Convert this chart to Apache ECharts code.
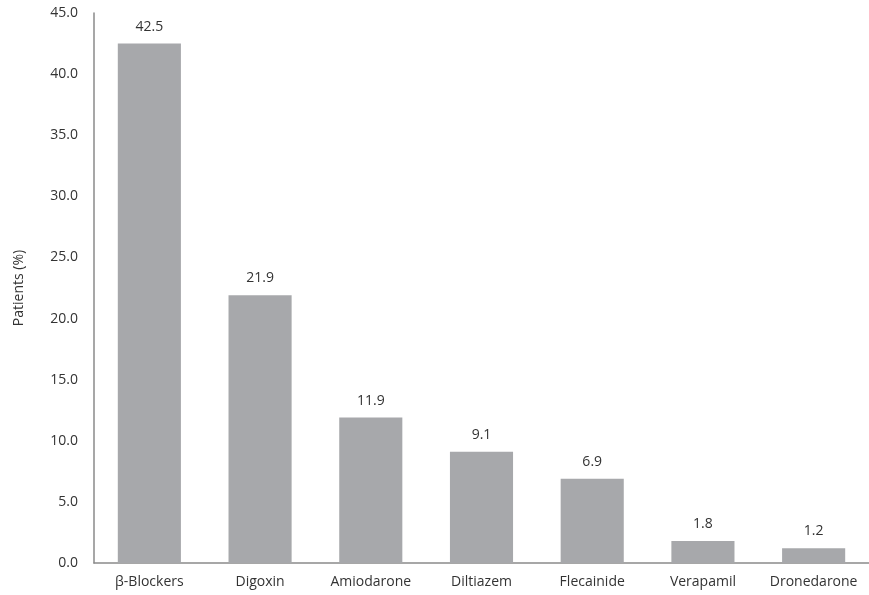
<!DOCTYPE html>
<html>
<head>
<meta charset="utf-8">
<script src="https://cdn.jsdelivr.net/npm/echarts@6/dist/echarts.min.js"></script>
<style>
  html, body { margin: 0; padding: 0; background: #fff; }
  #chart { width: 869px; height: 595px; }
</style>
</head>
<body>
<div id="chart"></div>
<script>
// Rate-control and antiarrhythmic drug use
const drugs = ['β-Blockers', 'Digoxin', 'Amiodarone', 'Diltiazem', 'Flecainide', 'Verapamil', 'Dronedarone'];
const patientPct = [42.5, 21.9, 11.9, 9.1, 6.9, 1.8, 1.2];
const yTicks = { min: 0, max: 45, step: 5 };

const fontFamily = '"Open Sans", "Noto Sans", sans-serif';
const chart = echarts.init(document.getElementById('chart'));
chart.setOption({
  animation: false,
  grid: { left: 94, right: 0, top: 13, bottom: 32, containLabel: false },
  xAxis: {
    type: 'category',
    data: drugs,
    axisLine: { lineStyle: { color: '#8a8a8a', width: 1.5 } },
    axisTick: { show: false },
    axisLabel: { color: '#333', fontSize: 14, fontFamily, margin: 12, interval: 0, hideOverlap: false }
  },
  yAxis: {
    type: 'value',
    min: yTicks.min,
    max: yTicks.max,
    interval: yTicks.step,
    name: 'Patients (%)',
    nameLocation: 'middle',
    nameRotate: 90,
    nameGap: 68,
    nameTextStyle: { color: '#333', fontSize: 14, fontFamily },
    axisLine: { show: true, lineStyle: { color: '#8a8a8a', width: 1.5 } },
    axisTick: { show: false },
    splitLine: { show: false },
    axisLabel: {
      color: '#333', fontSize: 14, fontFamily, margin: 16,
      formatter: v => v.toFixed(1)
    }
  },
  series: [{
    type: 'bar',
    data: patientPct,
    barWidth: '57%',
    itemStyle: { color: '#a7a8ab' },
    label: {
      show: true,
      position: 'top',
      distance: 10,
      color: '#333',
      fontSize: 14,
      fontFamily,
      formatter: p => p.value.toFixed(1)
    }
  }]
});
</script>
</body>
</html>
